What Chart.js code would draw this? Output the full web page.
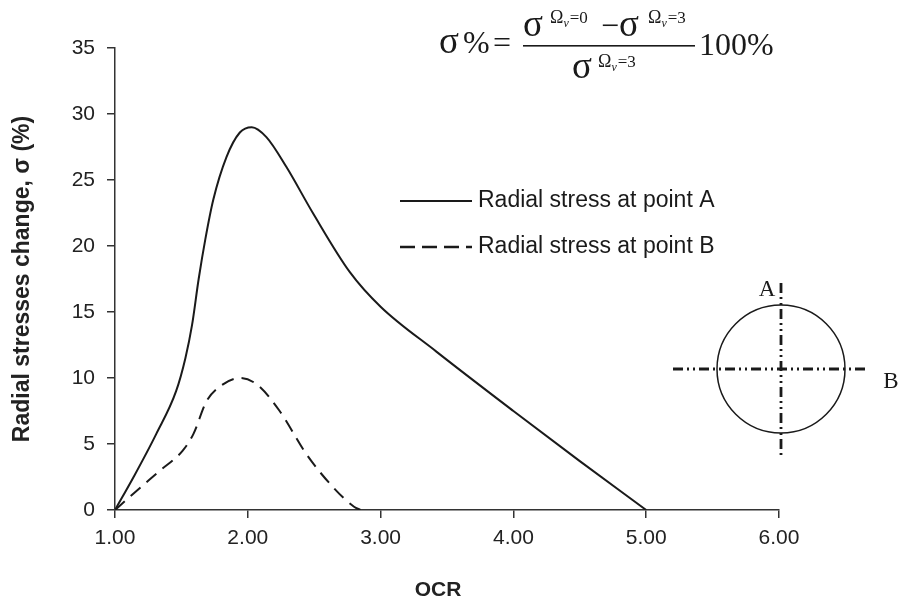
<!DOCTYPE html>
<html>
<head>
<meta charset="utf-8">
<script src="https://cdn.jsdelivr.net/npm/chart.js@4"></script>
<style>
  html, body { margin: 0; padding: 0; background: #fff; }
  #wrap { width: 901px; height: 604px; }
</style>
</head>
<body>
<div id="wrap"><canvas id="ocrChart" width="901" height="604"></canvas></div>
<script>
// OCR values and radial stress change (%)
const ocrA = [1.00, 1.14, 1.31, 1.46, 1.53, 1.58, 1.63, 1.68, 1.74, 1.84, 1.94, 2.03, 2.14, 2.29, 2.49, 2.77, 3.00, 3.42, 4.00, 4.50, 5.00];
const stressA = [0, 2.5, 5.75, 9.0, 11.5, 14.0, 17.5, 20.5, 23.5, 26.75, 28.6, 29.0, 28.25, 26.0, 22.5, 18.0, 15.4, 12.0, 7.5, 3.7, 0];

const ocrB = [1.00, 1.14, 1.34, 1.51, 1.59, 1.69, 1.81, 1.94, 2.07, 2.24, 2.44, 2.64, 2.80, 2.85];
const stressB = [0, 1.25, 3.0, 4.5, 5.75, 8.25, 9.5, 10.0, 9.5, 7.5, 4.25, 1.75, 0.25, 0];

const xTicks = [1, 2, 3, 4, 5, 6];
const yTicks = [0, 5, 10, 15, 20, 25, 30, 35];
const seriesLabels = ['Radial stress at point A', 'Radial stress at point B'];

const ink = '#1a1a1a';
const sansFont = '"Liberation Sans", Arial, sans-serif';
const serifFont = '"Liberation Serif", "Times New Roman", serif';

const toPoints = (xs, ys) => xs.map((x, i) => ({ x, y: ys[i] }));

// superscript like  Ω_ν=3
function drawSup(ctx, x, y, n) {
    ctx.font = '18px ' + serifFont;
    ctx.fillText('Ω', x, y);
    x += ctx.measureText('Ω').width;
    ctx.font = 'italic 12px ' + serifFont;
    ctx.fillText('ν', x, y + 4);
    x += ctx.measureText('ν').width + 1;
    ctx.font = '17px ' + serifFont;
    ctx.fillText('=' + n, x, y);
}

const extrasPlugin = {
    id: 'extras',
    afterDraw(chart) {
        const ctx = chart.ctx;
        ctx.save();
        ctx.fillStyle = ink;
        ctx.strokeStyle = ink;
        ctx.textBaseline = 'alphabetic';
        ctx.textAlign = 'left';

        // formula at the top
        const big = '32px ' + serifFont;
        const sig = '37px ' + serifFont;
        ctx.font = sig;
        ctx.fillText('σ', 439, 53);
        ctx.font = big;
        ctx.fillText('%', 463, 53);
        ctx.fillText('=', 493, 53);
        ctx.fillRect(523, 45, 172, 1.6);
        ctx.font = sig;
        ctx.fillText('σ', 523, 36);
        drawSup(ctx, 550, 23, '0');
        ctx.font = big;
        ctx.fillText('−', 601, 36);
        ctx.font = sig;
        ctx.fillText('σ', 619, 36);
        drawSup(ctx, 648, 23, '3');
        ctx.font = sig;
        ctx.fillText('σ', 572, 78);
        drawSup(ctx, 598, 67, '3');
        ctx.font = big;
        ctx.fillText('100%', 699, 55);

        // legend
        chart.data.datasets.forEach((ds, i) => {
            const y = 201 + i * 46;
            ctx.beginPath();
            ctx.lineWidth = ds.borderDash.length ? 2.6 : 1.8;
            ctx.setLineDash(ds.borderDash.length ? [15, 7] : []);
            ctx.moveTo(400, y);
            ctx.lineTo(472, y);
            ctx.stroke();
            ctx.setLineDash([]);
            ctx.font = '23px ' + sansFont;
            ctx.textBaseline = 'middle';
            ctx.fillText(ds.label, 478, y);
            ctx.textBaseline = 'alphabetic';
        });

        // cross-section sketch with points A and B
        const cx = 781, cy = 369, r = 64;
        ctx.beginPath();
        ctx.lineWidth = 1.5;
        ctx.arc(cx, cy, r, 0, Math.PI * 2);
        ctx.stroke();
        ctx.lineWidth = 2.8;
        ctx.setLineDash([10, 4, 2, 4, 2, 4]);
        ctx.beginPath();
        ctx.moveTo(673, cy);
        ctx.lineTo(866, cy);
        ctx.stroke();
        ctx.beginPath();
        ctx.moveTo(cx, 283);
        ctx.lineTo(cx, 458);
        ctx.stroke();
        ctx.setLineDash([]);
        ctx.font = '23px ' + serifFont;
        ctx.textAlign = 'center';
        ctx.textBaseline = 'middle';
        ctx.fillText('A', 767, 290);
        ctx.fillText('B', 891, 382);

        // x-axis title, set slightly left of the plot centre as in the figure
        ctx.font = 'bold 21px ' + sansFont;
        ctx.fillStyle = '#222';
        ctx.fillText('OCR', 438, 590);
        ctx.restore();
    }
};

new Chart(document.getElementById('ocrChart'), {
    type: 'scatter',
    data: {
        datasets: [{
            label: seriesLabels[0],
            data: toPoints(ocrA, stressA),
            showLine: true,
            borderColor: ink,
            borderWidth: 2,
            borderDash: [],
            pointRadius: 0,
            cubicInterpolationMode: 'monotone'
        }, {
            label: seriesLabels[1],
            data: toPoints(ocrB, stressB),
            showLine: true,
            borderColor: ink,
            borderWidth: 2,
            borderDash: [13, 8],
            pointRadius: 0,
            cubicInterpolationMode: 'monotone'
        }]
    },
    options: {
        responsive: false,
        animation: false,
        events: [],
        layout: { padding: { top: 48, right: 122, bottom: 0, left: 0 } },
        plugins: { legend: { display: false }, tooltip: { enabled: false } },
        scales: {
            x: {
                type: 'linear',
                min: xTicks[0],
                max: xTicks[xTicks.length - 1],
                afterBuildTicks: s => { s.ticks = xTicks.map(v => ({ value: v })); },
                afterFit: s => { s.height = 94; },
                ticks: {
                    color: '#222',
                    font: { family: sansFont, size: 21 },
                    padding: 8,
                    maxRotation: 0,
                    callback: v => Number(v).toFixed(2)
                },
                grid: { drawOnChartArea: false, drawTicks: true, tickLength: 8, color: '#333', lineWidth: 1.5 },
                border: { display: true, color: '#333', width: 1.5 }
            },
            y: {
                min: yTicks[0],
                max: yTicks[yTicks.length - 1],
                afterBuildTicks: s => { s.ticks = yTicks.map(v => ({ value: v })); },
                afterFit: s => { s.width = 115; },
                ticks: {
                    color: '#222',
                    font: { family: sansFont, size: 21 },
                    padding: 12
                },
                grid: { drawOnChartArea: false, drawTicks: true, tickLength: 8, color: '#333', lineWidth: 1.5 },
                border: { display: true, color: '#333', width: 1.5 },
                title: {
                    display: true,
                    text: 'Radial stresses change, σ (%)',
                    color: '#222',
                    font: { family: sansFont, size: 23, weight: 'bold' },
                    padding: { top: 9, bottom: 0 }
                }
            }
        }
    },
    plugins: [extrasPlugin]
});
</script>
</body>
</html>
